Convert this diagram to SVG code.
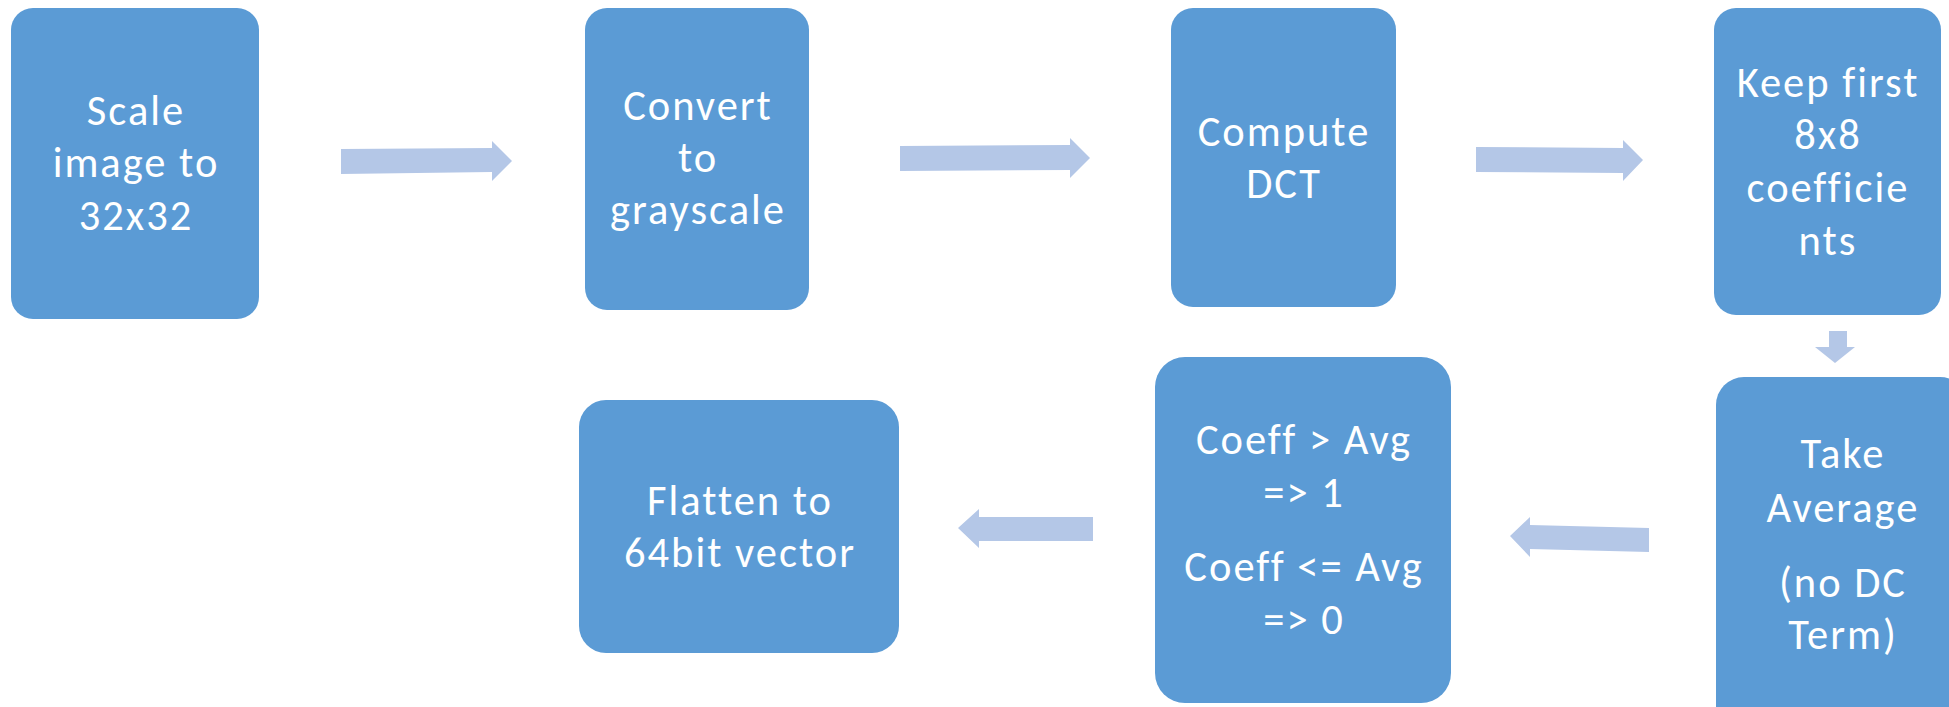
<svg xmlns="http://www.w3.org/2000/svg" width="1949" height="707" viewBox="0 0 1949 707">
  <style>
    .box { fill: #5B9BD5; }
    .lbl { fill: #FFFFFF; font-family: Carlito, Lato, "Liberation Sans", sans-serif; font-size: 42.5px; letter-spacing: 2px; text-anchor: middle; font-variant-ligatures: none; }
    .arrow { fill: #B4C7E7; }
  </style>
  <rect width="1949" height="707" fill="#FFFFFF"/>

  <!-- block arrows between steps -->
  <g id="connectors">
    <polygon class="arrow" points="341,149 492,148 492,141 512,161 492,181 492,172 341,174"/>
    <polygon class="arrow" points="900,146 1070,145 1070,138 1090,158 1070,178 1070,170 900,171"/>
    <polygon class="arrow" points="1476,147 1623,148 1623,140 1643,160 1623,181 1623,173 1476,172"/>
    <polygon class="arrow" points="1829,331 1847,331 1847,347 1855,347 1835,363 1815,347 1829,347"/>
    <polygon class="arrow" points="1649,528 1530,525 1530,517 1510,536 1530,557 1530,549 1649,552"/>
    <polygon class="arrow" points="1093,517 979,517 979,509 958,528 979,548 979,541 1093,541"/>
  </g>

  <g id="scale">
    <rect class="box" x="11" y="8" width="248" height="311" rx="22"/>
    <text class="lbl" x="136" y="125">Scale</text>
    <text class="lbl" x="136" y="177">image to</text>
    <text class="lbl" x="136" y="230">32x32</text>
  </g>

  <g id="grayscale">
    <rect class="box" x="585" y="8" width="224" height="302" rx="22"/>
    <text class="lbl" x="698" y="120">Convert</text>
    <text class="lbl" x="698" y="172">to</text>
    <text class="lbl" x="698" y="224">grayscale</text>
  </g>

  <g id="dct">
    <rect class="box" x="1171" y="8" width="225" height="299" rx="22"/>
    <text class="lbl" x="1284" y="146">Compute</text>
    <text class="lbl" x="1284" y="198">DCT</text>
  </g>

  <g id="keep">
    <rect class="box" x="1714" y="8" width="227" height="307" rx="22"/>
    <text class="lbl" x="1828" y="97">Keep first</text>
    <text class="lbl" x="1828" y="149">8x8</text>
    <text class="lbl" x="1828" y="202">coefficie</text>
    <text class="lbl" x="1828" y="255">nts</text>
  </g>

  <g id="average">
    <rect class="box" x="1716" y="377" width="252" height="360" rx="28"/>
    <text class="lbl" x="1843" y="468">Take</text>
    <text class="lbl" x="1843" y="522">Average</text>
    <text class="lbl" x="1843" y="597">(no DC</text>
    <text class="lbl" x="1843" y="649">Term)</text>
  </g>

  <g id="threshold">
    <rect class="box" x="1155" y="357" width="296" height="346" rx="30"/>
    <text class="lbl" x="1304" y="454">Coeff &gt; Avg</text>
    <text class="lbl" x="1304" y="507">=&gt; 1</text>
    <text class="lbl" x="1304" y="581">Coeff &lt;= Avg</text>
    <text class="lbl" x="1304" y="634">=&gt; 0</text>
  </g>

  <g id="flatten">
    <rect class="box" x="579" y="400" width="320" height="253" rx="27"/>
    <text class="lbl" x="740" y="515">Flatten to</text>
    <text class="lbl" x="740" y="567">64bit vector</text>
  </g>
</svg>
